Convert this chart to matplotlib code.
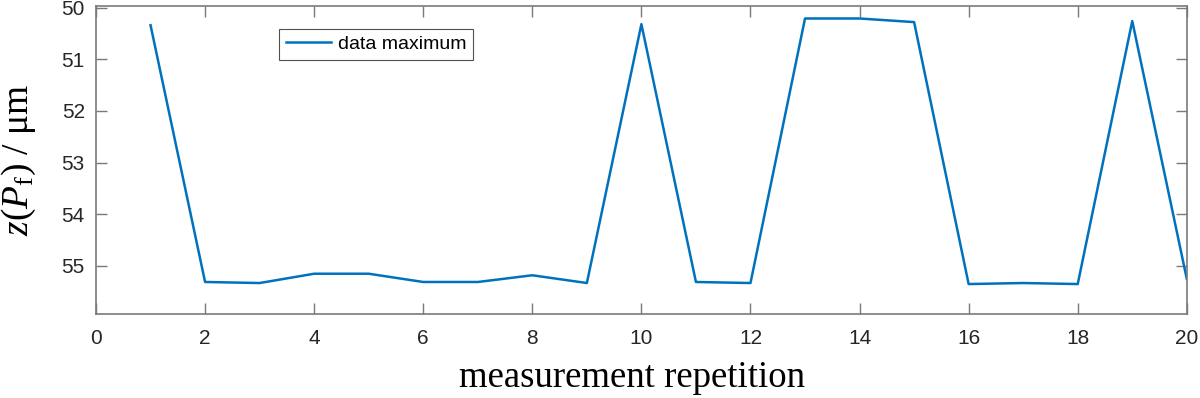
import matplotlib
matplotlib.use("Agg")
import matplotlib.pyplot as plt

repetition = list(range(1, 21))
z_max = [50.34, 55.31, 55.33, 55.15, 55.15, 55.31, 55.31, 55.18, 55.33, 50.32,
         55.31, 55.33, 50.21, 50.21, 50.28, 55.35, 55.33, 55.35, 50.26, 55.25]
xticks = list(range(0, 21, 2))
yticks = [50, 51, 52, 53, 54, 55]

plt.rcParams['mathtext.fontset'] = 'custom'
plt.rcParams['mathtext.rm'] = 'Liberation Serif'
plt.rcParams['mathtext.it'] = 'Liberation Serif:italic'

fig = plt.figure(figsize=(12, 3.98), dpi=100)
ax = fig.add_axes([0.08, 0.211, 0.909, 0.775])
ax.plot(repetition, z_max, color='#0072BD', lw=1.8, label='data maximum')
ax.set_xlim(0, 20)
ax.set_ylim(55.93, 49.96)
ax.set_xticks(xticks)
ax.set_yticks(yticks)
for s in ax.spines.values():
    s.set_color('#7a7a7a')
    s.set_linewidth(1.2)
ax.tick_params(direction='in', length=8, width=1.0, color='#7a7a7a',
               top=True, right=True, labelsize=15, labelcolor='#262626')
ax.tick_params(axis='x', pad=11)
ax.tick_params(axis='y', pad=8)
for lab in ax.get_xticklabels() + ax.get_yticklabels():
    lab.set_family('Liberation Sans')
ax.set_xlabel('measurement repetition', family='Liberation Serif', fontsize=26.5, labelpad=9)
ax.xaxis.label.set_x(0.491)
ax.set_ylabel(r'$z(P_\mathrm{f})$ / μm', family='Liberation Serif', fontsize=27, labelpad=17)
leg = ax.legend(loc='upper left', bbox_to_anchor=(0.168, 0.925), fontsize=14,
                frameon=True, fancybox=False, borderpad=0.35, handlelength=2.3,
                handletextpad=0.35, borderaxespad=0)
leg.get_frame().set_edgecolor('#262626')
leg.get_frame().set_linewidth(0.8)
for t in leg.get_texts():
    t.set_family('Liberation Sans')
fig.savefig('out.png', dpi=100)
